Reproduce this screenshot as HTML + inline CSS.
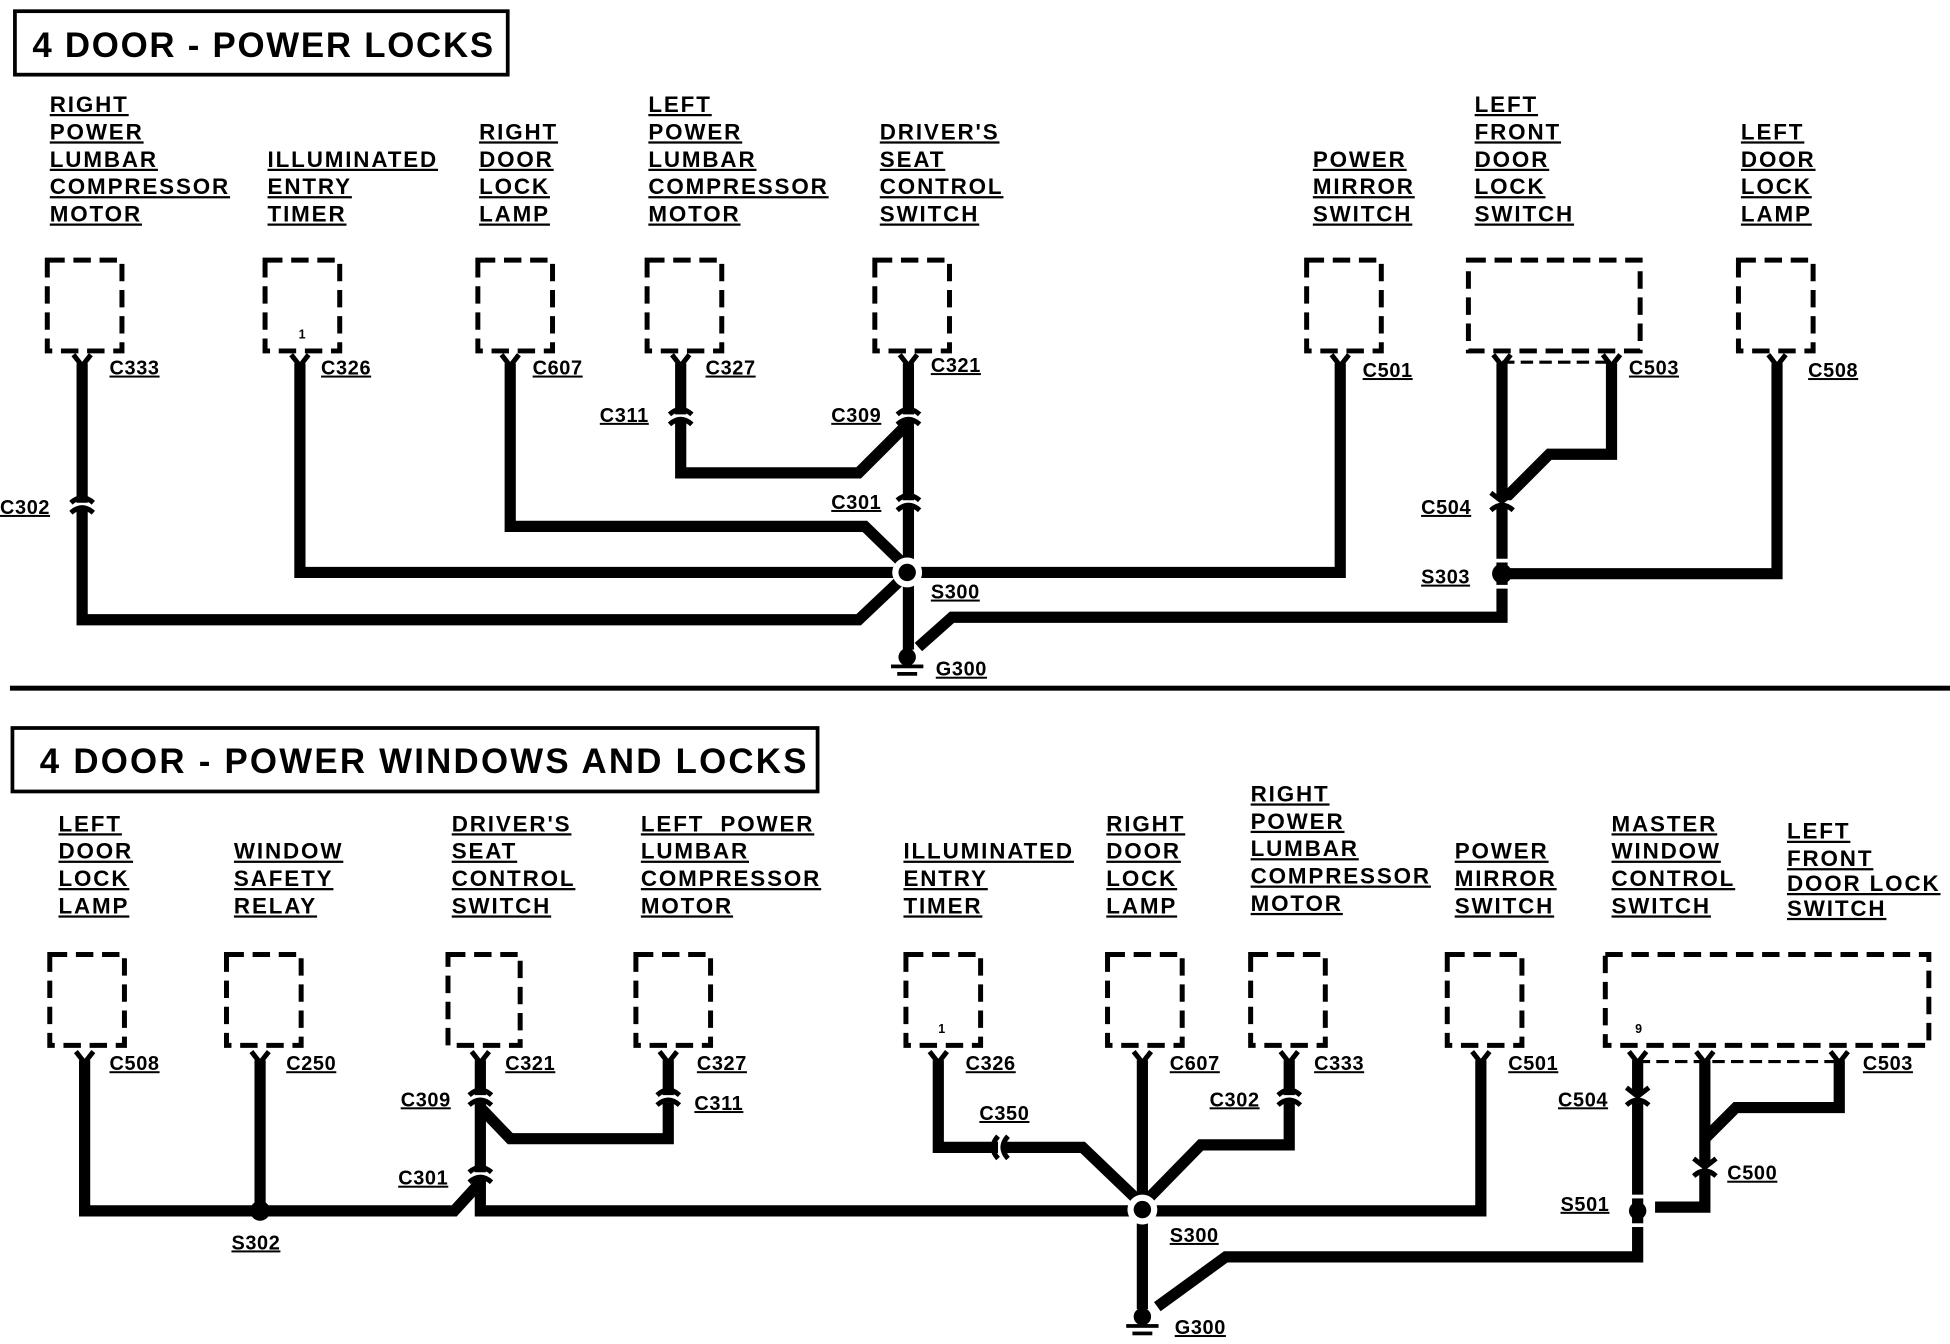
<!DOCTYPE html>
<html><head><meta charset="utf-8"><style>
html,body{margin:0;padding:0;background:#fff}
svg{display:block}
text{font-family:"Liberation Sans",sans-serif;font-weight:bold;fill:#000}
.l{font-size:18px;letter-spacing:1.5px;text-decoration:underline}
.c{font-size:16px;letter-spacing:0.5px;text-decoration:underline}
.t{font-size:28px;letter-spacing:1.4px}
.w{fill:none;stroke:#000;stroke-width:9;stroke-linejoin:miter}
.b{fill:none;stroke:#000;stroke-width:4;stroke-dasharray:14,7}
.y{fill:none;stroke:#000;stroke-width:4}
</style></head><body>
<svg width="1950" height="1344" viewBox="0 0 1567 1080" preserveAspectRatio="none">
<!-- TOP -->
<rect x="12" y="9" width="396" height="51" fill="none" stroke="#000" stroke-width="3"/>
<text class="t" x="26" y="46">4 DOOR - POWER LOCKS</text>
<text class="l" x="40" y="90">RIGHT</text><text class="l" x="40" y="112">POWER</text><text class="l" x="40" y="134">LUMBAR</text><text class="l" x="40" y="156">COMPRESSOR</text><text class="l" x="40" y="178">MOTOR</text>
<text class="l" x="215" y="134">ILLUMINATED</text><text class="l" x="215" y="156">ENTRY</text><text class="l" x="215" y="178">TIMER</text>
<text class="l" x="385" y="112">RIGHT</text><text class="l" x="385" y="134">DOOR</text><text class="l" x="385" y="156">LOCK</text><text class="l" x="385" y="178">LAMP</text>
<text class="l" x="521" y="90">LEFT</text><text class="l" x="521" y="112">POWER</text><text class="l" x="521" y="134">LUMBAR</text><text class="l" x="521" y="156">COMPRESSOR</text><text class="l" x="521" y="178">MOTOR</text>
<text class="l" x="707" y="112">DRIVER'S</text><text class="l" x="707" y="134">SEAT</text><text class="l" x="707" y="156">CONTROL</text><text class="l" x="707" y="178">SWITCH</text>
<text class="l" x="1055" y="134">POWER</text><text class="l" x="1055" y="156">MIRROR</text><text class="l" x="1055" y="178">SWITCH</text>
<text class="l" x="1185" y="90">LEFT</text><text class="l" x="1185" y="112">FRONT</text><text class="l" x="1185" y="134">DOOR</text><text class="l" x="1185" y="156">LOCK</text><text class="l" x="1185" y="178">SWITCH</text>
<text class="l" x="1399" y="112">LEFT</text><text class="l" x="1399" y="134">DOOR</text><text class="l" x="1399" y="156">LOCK</text><text class="l" x="1399" y="178">LAMP</text>
<rect class="b" x="38" y="209" width="60" height="73"/>
<rect class="b" x="213" y="209" width="60" height="73"/>
<rect class="b" x="384" y="209" width="60" height="73"/>
<rect class="b" x="520" y="209" width="60" height="73"/>
<rect class="b" x="703" y="209" width="60" height="73"/>
<rect class="b" x="1050" y="209" width="60" height="73"/>
<rect class="b" x="1180" y="209" width="138" height="73"/>
<rect class="b" x="1397" y="209" width="60" height="73"/>
<line x1="1207" y1="291" x2="1295" y2="291" stroke="#000" stroke-width="2.5" stroke-dasharray="10,5"/>
<g class="y">
<path d="M59 285 L66 294 L73 285"/><path d="M234 285 L241 294 L248 285"/><path d="M403 285 L410 294 L417 285"/>
<path d="M540 285 L547 294 L554 285"/><path d="M723 285 L730 294 L737 285"/><path d="M1070 285 L1077 294 L1084 285"/>
<path d="M1200 285 L1207 294 L1214 285"/><path d="M1288 285 L1295 294 L1302 285"/><path d="M1421 285 L1428 294 L1435 285"/>
</g>
<text x="240" y="272" font-size="10">1</text>
<text class="c" x="88" y="301">C333</text><text class="c" x="258" y="301">C326</text><text class="c" x="428" y="301">C607</text>
<text class="c" x="567" y="301">C327</text><text class="c" x="748" y="299">C321</text><text class="c" x="1095" y="303">C501</text>
<text class="c" x="1309" y="301">C503</text><text class="c" x="1453" y="303">C508</text>
<text class="c" x="482" y="339">C311</text><text class="c" x="668" y="339">C309</text><text class="c" x="668" y="409">C301</text>
<text class="c" x="0" y="413">C302</text><text class="c" x="1142" y="413">C504</text><text class="c" x="1142" y="469">S303</text>
<text class="c" x="748" y="481">S300</text><text class="c" x="752" y="543">G300</text>
<g class="w">
<path d="M66 292 V498 H690 L728 462"/>
<path d="M241 292 V460 H730"/>
<path d="M410 292 V423 H695 L728 455"/>
<path d="M547 292 V380 H690 L728 342"/>
<path d="M730 292 V522"/>
<path d="M1077 292 V460 H730"/>
<path d="M738 520 L765 496 H1207 V292"/>
<path d="M1295 292 V365 H1245 L1210 400"/>
<path d="M1207 461 H1428 V292"/>
</g>
<rect x="57" y="404" width="18" height="6" fill="#fff"/><path class="y" d="M57 404 Q66 396 75 404 M57 412 Q66 404 75 412"/>
<rect x="538" y="333" width="18" height="6" fill="#fff"/><path class="y" d="M538 333 Q547 325 556 333 M538 341 Q547 333 556 341"/>
<rect x="721" y="333" width="18" height="6" fill="#fff"/><path class="y" d="M721 333 Q730 325 739 333 M721 341 Q730 333 739 341"/>
<rect x="721" y="402" width="18" height="6" fill="#fff"/><path class="y" d="M721 402 Q730 394 739 402 M721 410 Q730 402 739 410"/>
<rect x="1198" y="402" width="18" height="6" fill="#fff"/><path class="y" d="M1198 396 L1207 403 L1216 396 M1198 410 Q1207 402 1216 410"/>
<circle cx="729" cy="460" r="12" fill="#fff"/><circle cx="729" cy="460" r="7" fill="#000"/>
<rect x="1199" y="449" width="16" height="3" fill="#fff"/><rect x="1199" y="470" width="16" height="3" fill="#fff"/>
<circle cx="1207" cy="461" r="8" fill="#000"/>
<circle cx="729" cy="528" r="7" fill="#000"/><rect x="716" y="534" width="26" height="3"/><rect x="721" y="540" width="16" height="3"/>
<rect x="8" y="551" width="1559" height="4"/>
<!-- BOTTOM -->
<rect x="10" y="585" width="647" height="51" fill="none" stroke="#000" stroke-width="3"/>
<text class="t" x="32" y="621" style="letter-spacing:1.8px">4 DOOR - POWER WINDOWS AND LOCKS</text>
<text class="l" x="47" y="668">LEFT</text><text class="l" x="47" y="690">DOOR</text><text class="l" x="47" y="712">LOCK</text><text class="l" x="47" y="734">LAMP</text>
<text class="l" x="188" y="690">WINDOW</text><text class="l" x="188" y="712">SAFETY</text><text class="l" x="188" y="734">RELAY</text>
<text class="l" x="363" y="668">DRIVER'S</text><text class="l" x="363" y="690">SEAT</text><text class="l" x="363" y="712">CONTROL</text><text class="l" x="363" y="734">SWITCH</text>
<text class="l" x="515" y="668" xml:space="preserve">LEFT  POWER</text><text class="l" x="515" y="690">LUMBAR</text><text class="l" x="515" y="712">COMPRESSOR</text><text class="l" x="515" y="734">MOTOR</text>
<text class="l" x="726" y="690">ILLUMINATED</text><text class="l" x="726" y="712">ENTRY</text><text class="l" x="726" y="734">TIMER</text>
<text class="l" x="889" y="668">RIGHT</text><text class="l" x="889" y="690">DOOR</text><text class="l" x="889" y="712">LOCK</text><text class="l" x="889" y="734">LAMP</text>
<text class="l" x="1005" y="644">RIGHT</text><text class="l" x="1005" y="666">POWER</text><text class="l" x="1005" y="688">LUMBAR</text><text class="l" x="1005" y="710">COMPRESSOR</text><text class="l" x="1005" y="732">MOTOR</text>
<text class="l" x="1169" y="690">POWER</text><text class="l" x="1169" y="712">MIRROR</text><text class="l" x="1169" y="734">SWITCH</text>
<text class="l" x="1295" y="668">MASTER</text><text class="l" x="1295" y="690">WINDOW</text><text class="l" x="1295" y="712">CONTROL</text><text class="l" x="1295" y="734">SWITCH</text>
<text class="l" x="1436" y="674">LEFT</text><text class="l" x="1436" y="696">FRONT</text><text class="l" x="1436" y="716">DOOR LOCK</text><text class="l" x="1436" y="736">SWITCH</text>
<rect class="b" x="40" y="767" width="60" height="73"/>
<rect class="b" x="182" y="767" width="60" height="73"/>
<rect class="b" x="360" y="767" width="58" height="73"/>
<rect class="b" x="511" y="767" width="60" height="73"/>
<rect class="b" x="728" y="767" width="60" height="73"/>
<rect class="b" x="890" y="767" width="60" height="73"/>
<rect class="b" x="1005" y="767" width="60" height="73"/>
<rect class="b" x="1163" y="767" width="60" height="73"/>
<rect class="b" x="1290" y="767" width="260" height="73"/>
<line x1="1316" y1="853" x2="1478" y2="853" stroke="#000" stroke-width="2.5" stroke-dasharray="10,5"/>
<text x="754" y="830" font-size="10">1</text><text x="1314" y="830" font-size="10">9</text>
<g class="y">
<path d="M61 845 L68 854 L75 845"/><path d="M202 845 L209 854 L216 845"/><path d="M379 845 L386 854 L393 845"/>
<path d="M530 845 L537 854 L544 845"/><path d="M747 845 L754 854 L761 845"/><path d="M911 845 L918 854 L925 845"/>
<path d="M1029 845 L1036 854 L1043 845"/><path d="M1183 845 L1190 854 L1197 845"/>
<path d="M1309 845 L1316 854 L1323 845"/><path d="M1363 845 L1370 854 L1377 845"/><path d="M1471 845 L1478 854 L1485 845"/>
</g>
<text class="c" x="88" y="860">C508</text><text class="c" x="230" y="860">C250</text><text class="c" x="406" y="860">C321</text>
<text class="c" x="560" y="860">C327</text><text class="c" x="776" y="860">C326</text><text class="c" x="940" y="860">C607</text>
<text class="c" x="1056" y="860">C333</text><text class="c" x="1212" y="860">C501</text><text class="c" x="1497" y="860">C503</text>
<text class="c" x="322" y="889">C309</text><text class="c" x="558" y="892">C311</text><text class="c" x="320" y="952">C301</text>
<text class="c" x="787" y="900">C350</text><text class="c" x="972" y="889">C302</text><text class="c" x="1252" y="889">C504</text>
<text class="c" x="1388" y="948">C500</text><text class="c" x="1254" y="973">S501</text><text class="c" x="186" y="1004">S302</text>
<text class="c" x="940" y="998">S300</text><text class="c" x="944" y="1072">G300</text>
<g class="w">
<path d="M68 852 V973 H365 L386 950"/>
<path d="M209 852 V973"/>
<path d="M386 852 V973 H918"/>
<path d="M386 890 L410 915 H537 V852"/>
<path d="M754 852 V922 H870 L918 968"/>
<path d="M918 852 V1052"/>
<path d="M1036 852 V920 H965 L918 968"/>
<path d="M1190 852 V973 H918"/>
<path d="M1316 852 V1010 H985 L930 1050"/>
<path d="M1478 852 V890 H1395 L1370 915"/>
<path d="M1370 852 V970 H1330"/>
</g>
<rect x="377" y="880" width="18" height="6" fill="#fff"/><path class="y" d="M377 880 Q386 872 395 880 M377 888 Q386 880 395 888"/>
<rect x="528" y="880" width="18" height="6" fill="#fff"/><path class="y" d="M528 880 Q537 872 546 880 M528 888 Q537 880 546 888"/>
<rect x="377" y="942" width="18" height="6" fill="#fff"/><path class="y" d="M377 942 Q386 934 395 942 M377 950 Q386 942 395 950"/>
<rect x="1027" y="880" width="18" height="6" fill="#fff"/><path class="y" d="M1027 880 Q1036 872 1045 880 M1027 888 Q1036 880 1045 888"/>
<rect x="802" y="913" width="6" height="18" fill="#fff"/><path class="y" d="M802 913 Q794 922 802 931 M810 913 Q802 922 810 931"/>
<rect x="1307" y="880" width="18" height="6" fill="#fff"/><path class="y" d="M1307 874 L1316 881 L1325 874 M1307 888 Q1316 880 1325 888"/>
<rect x="1361" y="937" width="18" height="6" fill="#fff"/><path class="y" d="M1361 931 L1370 938 L1379 931 M1361 945 Q1370 937 1379 945"/>
<circle cx="918" cy="972" r="12" fill="#fff"/><circle cx="918" cy="972" r="7" fill="#000"/>
<circle cx="209" cy="973" r="8" fill="#000"/>
<rect x="1308" y="960" width="16" height="3" fill="#fff"/><rect x="1308" y="983" width="16" height="3" fill="#fff"/>
<circle cx="1316" cy="973" r="7" fill="#000"/>
<circle cx="918" cy="1058" r="7" fill="#000"/><rect x="905" y="1064" width="26" height="3"/><rect x="910" y="1070" width="16" height="3"/>
</svg>
</body></html>
